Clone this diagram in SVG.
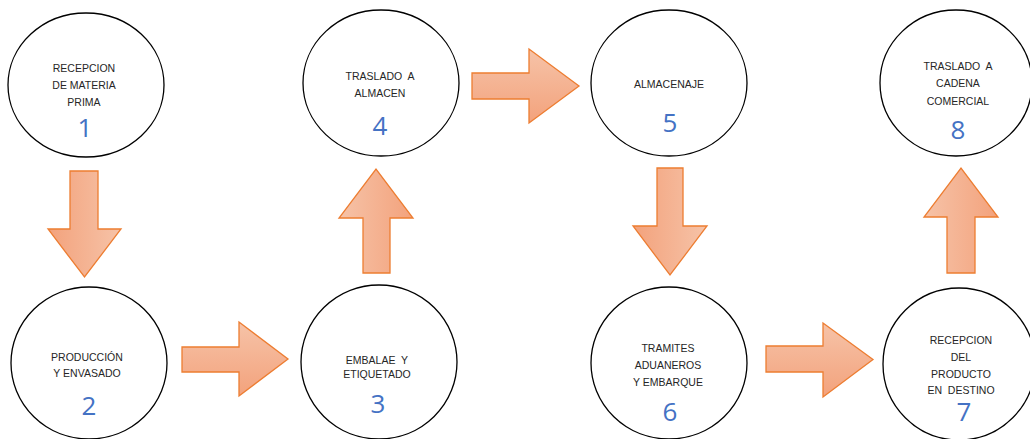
<svg xmlns="http://www.w3.org/2000/svg" width="1030" height="439" viewBox="0 0 1030 439">
  <defs>
    <!-- block-arrow shading, oriented with each arrow -->
    <linearGradient id="gRight" x1="0" y1="0" x2="0" y2="1">
      <stop offset="0" stop-color="#F6C3A8"/>
      <stop offset="1" stop-color="#F3A27C"/>
    </linearGradient>
    <linearGradient id="gDown" x1="0" y1="0" x2="1" y2="0">
      <stop offset="0" stop-color="#F3A27C"/>
      <stop offset="1" stop-color="#F6C3A8"/>
    </linearGradient>
    <linearGradient id="gUp" x1="0" y1="0" x2="1" y2="0">
      <stop offset="0" stop-color="#F6C3A8"/>
      <stop offset="1" stop-color="#F3A27C"/>
    </linearGradient>
  </defs>
  <style>
    .step { fill: #FFFFFF; stroke: #000000; stroke-width: 1.3; }
    .lbl { font-family: "Liberation Sans", Arial, sans-serif; font-size: 10.5px; fill: #262626; text-anchor: middle; white-space: pre; }
    .num { font-family: "Open Sans", "Liberation Sans", sans-serif; font-size: 26px; fill: #4472C4; text-anchor: middle; }
    .arrow { stroke: #ED7D31; stroke-width: 1.3; stroke-linejoin: miter; }
  </style>

  <rect width="1030" height="439" fill="#FFFFFF"/>

  <g id="connectors">
    <polygon class="arrow" fill="url(#gDown)" points="70,171 98,171 98,229 121,229 84.5,277 48,229 70,229"/>
    <polygon class="arrow" fill="url(#gRight)" points="182,347 239,347 239,322 288,359 239,396 239,372 182,372"/>
    <polygon class="arrow" fill="url(#gUp)" points="363,273 390,273 390,218 413,218 376,169 339,218 363,218"/>
    <polygon class="arrow" fill="url(#gRight)" points="472,73 529,73 529,49 579,86 529,123 529,99 472,99"/>
    <polygon class="arrow" fill="url(#gDown)" points="657,168 683,168 683,226 707,226 670,275 633,226 657,226"/>
    <polygon class="arrow" fill="url(#gRight)" points="766,346 823,346 823,323 873,359.5 823,397 823,372 766,372"/>
    <polygon class="arrow" fill="url(#gUp)" points="947,273 975,273 975,217 998,217 961,168 924,217 947,217"/>
  </g>

  <g id="n1">
    <ellipse class="step" cx="86" cy="85" rx="78" ry="72"/>
    <text class="lbl" x="84" y="72">RECEPCION</text>
    <text class="lbl" x="84" y="89">DE MATERIA</text>
    <text class="lbl" x="84" y="106">PRIMA</text>
    <text class="num" x="85" y="137">1</text>
  </g>

  <g id="n2">
    <ellipse class="step" cx="89" cy="363" rx="78" ry="76"/>
    <text class="lbl" x="87" y="361">PRODUCCIÓN</text>
    <text class="lbl" x="87" y="377">Y ENVASADO</text>
    <text class="num" x="89" y="415">2</text>
  </g>

  <g id="n3">
    <ellipse class="step" cx="379" cy="362" rx="78" ry="77"/>
    <text class="lbl" x="377" y="364">EMBALAE  Y</text>
    <text class="lbl" x="377" y="378">ETIQUETADO</text>
    <text class="num" x="378" y="413">3</text>
  </g>

  <g id="n4">
    <ellipse class="step" cx="381" cy="83" rx="78" ry="73"/>
    <text class="lbl" x="380" y="80">TRASLADO  A</text>
    <text class="lbl" x="380" y="97">ALMACEN</text>
    <text class="num" x="380" y="135">4</text>
  </g>

  <g id="n5">
    <ellipse class="step" cx="669" cy="83" rx="78" ry="73"/>
    <text class="lbl" x="669" y="88">ALMACENAJE</text>
    <text class="num" x="670" y="132">5</text>
  </g>

  <g id="n6">
    <ellipse class="step" cx="669" cy="363" rx="78" ry="76"/>
    <text class="lbl" x="668" y="352">TRAMITES</text>
    <text class="lbl" x="668" y="369">ADUANEROS</text>
    <text class="lbl" x="668" y="386">Y EMBARQUE</text>
    <text class="num" x="670" y="421">6</text>
  </g>

  <g id="n7">
    <ellipse class="step" cx="959" cy="364" rx="76" ry="76"/>
    <text class="lbl" x="961" y="344">RECEPCION</text>
    <text class="lbl" x="961" y="361">DEL</text>
    <text class="lbl" x="961" y="378">PRODUCTO</text>
    <text class="lbl" x="961" y="394">EN  DESTINO</text>
    <text class="num" x="964" y="421">7</text>
  </g>

  <g id="n8">
    <ellipse class="step" cx="956" cy="83" rx="76" ry="73"/>
    <text class="lbl" x="958" y="70">TRASLADO  A</text>
    <text class="lbl" x="958" y="87">CADENA</text>
    <text class="lbl" x="958" y="105">COMERCIAL</text>
    <text class="num" x="958" y="139">8</text>
  </g>
</svg>
